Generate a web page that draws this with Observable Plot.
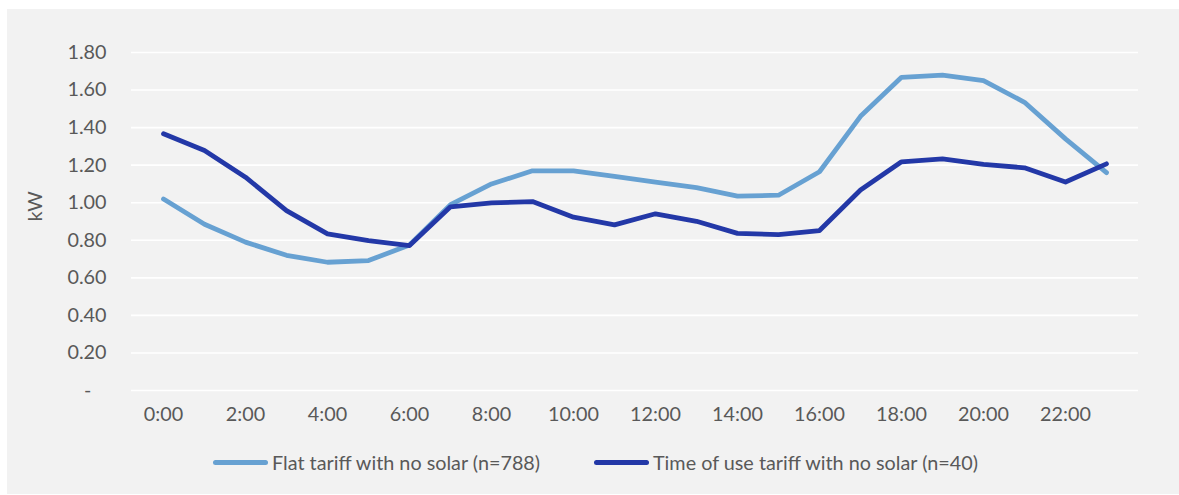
<!DOCTYPE html>
<html><head><meta charset="utf-8">
<script src="https://cdn.jsdelivr.net/npm/d3@7"></script>
<script src="https://cdn.jsdelivr.net/npm/@observablehq/plot@0.6"></script>
<style>
body{margin:0;background:#fff;font-family:Lato, sans-serif;}
#bg{position:absolute;left:7px;top:9px;width:1172px;height:485px;background:#f2f2f2;}
#chart{position:absolute;left:0;top:0;}
.leg{position:absolute;top:450px;height:24px;display:flex;align-items:center;color:#595959;font-size:19.8px;white-space:nowrap;}
.sw{width:55px;height:5px;border-radius:3px;margin-right:4px;}
</style></head><body>
<div id="bg"></div><div id="chart"></div><div id="legend"></div>
<script>
const hours = ["0:00","1:00","2:00","3:00","4:00","5:00","6:00","7:00","8:00","9:00","10:00","11:00","12:00","13:00","14:00","15:00","16:00","17:00","18:00","19:00","20:00","21:00","22:00","23:00"];
const flat = [1.02,0.885,0.79,0.72,0.683,0.692,0.775,0.99,1.10,1.17,1.17,1.14,1.11,1.08,1.035,1.04,1.165,1.46,1.668,1.68,1.65,1.535,1.34,1.16];
const tou = [1.367,1.278,1.136,0.958,0.834,0.798,0.772,0.978,0.999,1.006,0.923,0.882,0.941,0.901,0.837,0.83,0.852,1.068,1.218,1.234,1.204,1.186,1.11,1.207];
const seriesNames = ["Flat tariff with no solar (n=788)","Time of use tariff with no solar (n=40)"];
const seriesColors = ["#67a1d2","#2338a7"];
const yTicks = [0,0.2,0.4,0.6,0.8,1.0,1.2,1.4,1.6,1.8];
const xTicks = hours.filter((h,i)=>i%2===0);
const yLabel = "kW";

const rows = [];
[flat,tou].forEach((arr,s)=>arr.forEach((v,i)=>rows.push({hour:hours[i],value:v,series:seriesNames[s]})));

const plot = Plot.plot({
  width:1179, height:440,
  marginLeft:131, marginRight:41, marginTop:52, marginBottom:50,
  style:{background:"transparent", fontFamily:"Lato, sans-serif", fontSize:"19.8px", color:"#595959"},
  x:{type:"point", domain:hours, padding:0.5},
  y:{domain:[0,1.8]},
  color:{domain:seriesNames, range:seriesColors},
  marks:[
    Plot.ruleY(yTicks,{stroke:"#ffffff",strokeWidth:1.6}),
    Plot.axisX({ticks:xTicks, tickSize:0, tickPadding:16, label:null, fill:"#595959"}),
    Plot.axisY({ticks:yTicks, tickSize:0, tickPadding:25, label:null, fill:"#595959",
      tickFormat:d=>d===0?"-\u00a0\u00a0\u00a0":d.toFixed(2)}),
    Plot.text([yLabel],{frameAnchor:"left", text:d=>d, rotate:-90, dx:-96, fill:"#595959", fontSize:19.8}),
    Plot.line(rows,{x:"hour", y:"value", z:"series", stroke:"series", strokeWidth:4.8, strokeLinecap:"round", strokeLinejoin:"round"})
  ]
});
document.getElementById("chart").appendChild(plot);

const legendLefts = [213,594];
const lg = document.getElementById("legend");
seriesNames.forEach((n,i)=>{
  const d=document.createElement("div");d.className="leg";d.style.left=legendLefts[i]+"px";
  const sw=document.createElement("div");sw.className="sw";sw.style.background=seriesColors[i];
  const t=document.createElement("span");t.textContent=n;
  d.appendChild(sw);d.appendChild(t);lg.appendChild(d);
});
</script>
</body></html>
